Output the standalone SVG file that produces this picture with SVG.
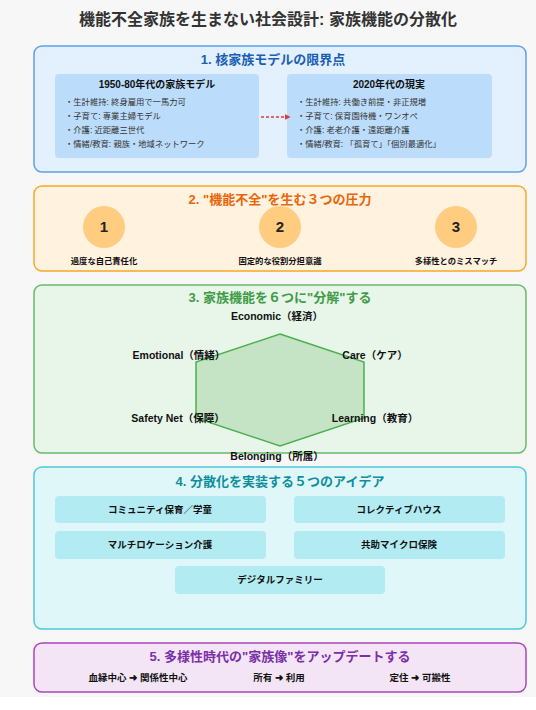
<svg xmlns="http://www.w3.org/2000/svg" width="536" height="710" viewBox="0 0 536 710">
<style>
text{font-family:"Liberation Sans","Noto Sans CJK JP",sans-serif;fill:#222}
.t{font-size:16px;font-weight:700;fill:#333;text-anchor:middle}
.st{font-size:13px;font-weight:700;text-anchor:middle}
.sub{font-size:10px;font-weight:700;text-anchor:middle;fill:#111}
.li{font-size:8.3px;fill:#333}
.lab{font-size:8.3px;font-weight:700;text-anchor:middle;fill:#111}
.num{font-size:15px;font-weight:700;text-anchor:middle;fill:#222}
.hx{font-size:10.5px;font-weight:700;text-anchor:middle;fill:#111}
.bx{font-size:9.5px;font-weight:700;text-anchor:middle;fill:#111}
</style>
<defs>
<marker id="ar" viewBox="0 0 10 10" refX="9" refY="5" markerWidth="6" markerHeight="6" orient="auto" markerUnits="userSpaceOnUse">
<path d="M0,0L10,5L0,10z" fill="#e53935"/>
</marker>
</defs>
<rect x="0" y="0" width="536" height="697" fill="#f7f7f7"/>
<rect x="0" y="697" width="536" height="13" fill="#ffffff"/>
<text class="t" x="268" y="25">機能不全家族を生まない社会設計: 家族機能の分散化</text>

<g id="sec1">
<rect x="34" y="46" width="492" height="126" rx="8" fill="#e3f0fd" stroke="#5ea1e6" stroke-width="1.5"/>
<text class="st" x="273" y="64" style="fill:#1a5fb4">1. 核家族モデルの限界点</text>
</g>
<g id="old-model">
<rect x="55" y="74" width="204" height="84" rx="4" fill="#bbdcfa"/>
<text class="sub" x="157" y="88">1950-80年代の家族モデル</text>
<text class="li" x="65" y="105">・生計維持: 終身雇用で一馬力可</text>
<text class="li" x="65" y="119">・子育て: 専業主婦モデル</text>
<text class="li" x="65" y="133">・介護: 近距離三世代</text>
<text class="li" x="65" y="147">・情緒/教育: 親族・地域ネットワーク</text>
</g>
<g id="new-reality">
<rect x="287" y="74" width="205" height="84" rx="4" fill="#bbdcfa"/>
<text class="sub" x="389" y="88">2020年代の現実</text>
<text class="li" x="297" y="105">・生計維持: 共働き前提・非正規増</text>
<text class="li" x="297" y="119">・子育て: 保育園待機・ワンオペ</text>
<text class="li" x="297" y="133">・介護: 老老介護・遠距離介護</text>
<text class="li" x="297" y="147">・情緒/教育: 「孤育て」「個別最適化」</text>
</g>

<g id="sec2">
<rect x="34" y="186" width="492" height="85" rx="8" fill="#fff3e0" stroke="#f9a825" stroke-width="1.5"/>
<text class="st" x="280" y="204" style="fill:#e8650a">2. "機能不全"を生む３つの圧力</text>
</g>
<g id="p1">
<circle cx="104" cy="227" r="21" fill="#ffcc80"/>
<text class="num" x="104" y="232">1</text>
<text class="lab" x="104" y="264">過度な自己責任化</text>
</g>
<g id="p2">
<circle cx="280" cy="227" r="21" fill="#ffcc80"/>
<text class="num" x="280" y="232">2</text>
<text class="lab" x="280" y="264">固定的な役割分担意識</text>
</g>
<g id="p3">
<circle cx="456" cy="227" r="21" fill="#ffcc80"/>
<text class="num" x="456" y="232">3</text>
<text class="lab" x="456" y="264">多様性とのミスマッチ</text>
</g>

<g id="sec3">
<rect x="34" y="285" width="492" height="168" rx="8" fill="#e8f5e9" stroke="#66bb6a" stroke-width="1.5"/>
<text class="st" x="280" y="302" style="fill:#3f9b45">3. 家族機能を６つに"分解"する</text>
</g>
<g id="hexagon">
<polygon points="280,334 364,362 364,418 280,446 196,418 196,362" fill="#a5d6a7" fill-opacity="0.55" stroke="#4caf50" stroke-width="1.5"/>
</g>
<g id="f-economic"><text class="hx" x="277" y="320">Economic（経済）</text></g>
<g id="f-emotional"><text class="hx" x="179" y="359">Emotional（情緒）</text></g>
<g id="f-care"><text class="hx" x="375" y="359">Care（ケア）</text></g>
<g id="f-safety"><text class="hx" x="178" y="422">Safety Net（保障）</text></g>
<g id="f-learning"><text class="hx" x="375" y="422">Learning（教育）</text></g>
<g id="f-belonging"><text class="hx" x="277" y="460">Belonging（所属）</text></g>

<g id="sec4">
<rect x="34" y="467" width="492" height="162" rx="8" fill="#e0f7fa" stroke="#4cc9dc" stroke-width="1.5"/>
<text class="st" x="280" y="486" style="fill:#0e8f9c">4. 分散化を実装する５つのアイデア</text>
</g>
<g id="i1"><rect x="55" y="496" width="211" height="27" rx="4" fill="#b2ebf2"/><text class="bx" x="160" y="513">コミュニティ保育／学童</text></g>
<g id="i2"><rect x="294" y="496" width="211" height="27" rx="4" fill="#b2ebf2"/><text class="bx" x="399" y="513">コレクティブハウス</text></g>
<g id="i3"><rect x="55" y="531" width="211" height="28" rx="4" fill="#b2ebf2"/><text class="bx" x="160" y="548">マルチロケーション介護</text></g>
<g id="i4"><rect x="294" y="531" width="211" height="28" rx="4" fill="#b2ebf2"/><text class="bx" x="399" y="548">共助マイクロ保険</text></g>
<g id="i5"><rect x="175" y="566" width="210" height="28" rx="4" fill="#b2ebf2"/><text class="bx" x="280" y="583">デジタルファミリー</text></g>

<g id="sec5">
<rect x="34" y="643" width="492" height="49" rx="8" fill="#f3e5f5" stroke="#ab47bc" stroke-width="1.5"/>
<text class="st" x="280" y="661" style="fill:#7b2fa8">5. 多様性時代の"家族像"をアップデートする</text>
</g>
<g id="u1"><text class="bx" x="138" y="681">血縁中心 ➜ 関係性中心</text></g>
<g id="u2"><text class="bx" x="279" y="681">所有 ➜ 利用</text></g>
<g id="u3"><text class="bx" x="420" y="681">定住 ➜ 可搬性</text></g>

<g id="connectors">
<line x1="261" y1="117" x2="290" y2="117" stroke="#e53935" stroke-width="1.3" stroke-dasharray="3,2" marker-end="url(#ar)"/>
</g>
</svg>
